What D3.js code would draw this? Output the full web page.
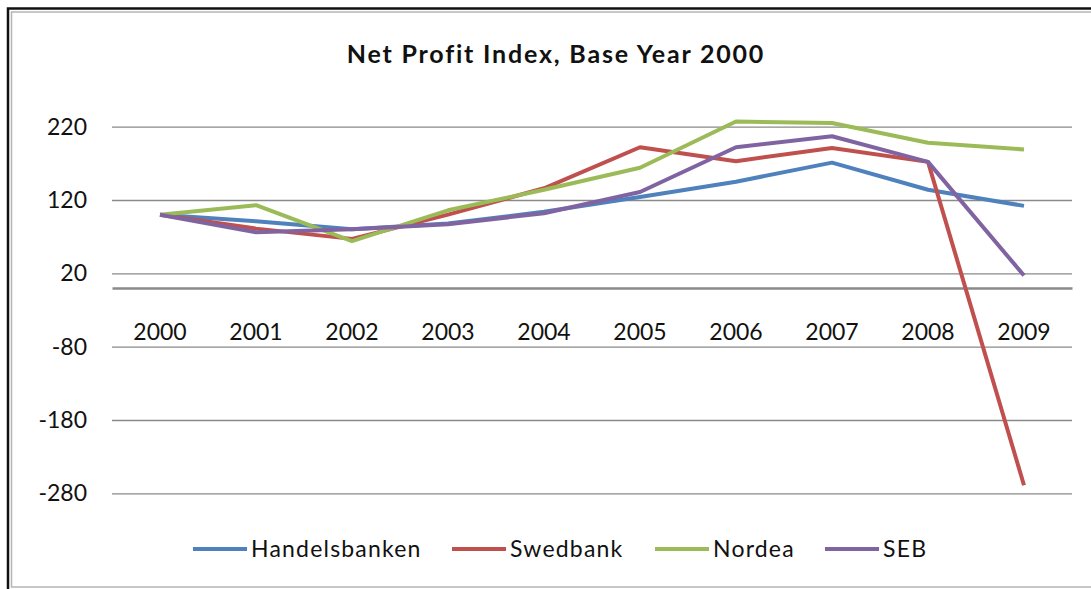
<!DOCTYPE html>
<html>
<head>
<meta charset="utf-8">
<script src="https://cdn.jsdelivr.net/npm/d3@7"></script>
<style>
  html, body { margin: 0; padding: 0; background: #fff; }
  svg { display: block; font-family: Lato, "Open Sans", sans-serif; }
</style>
</head>
<body>
<svg id="chart"></svg>
<script>
// --- data ---
const years = ["2000", "2001", "2002", "2003", "2004", "2005", "2006", "2007", "2008", "2009"];
const handelsbanken = [100, 91, 80, 88, 104, 124, 145, 171, 134, 112];
const swedbank = [100, 81, 67, 100, 136, 192, 173, 191, 172, -269];
const nordea = [100, 113, 64, 106, 134, 164, 227, 225, 198, 189];
const seb = [100, 76, 80, 87, 102, 131, 192, 207, 172, 17];
const seriesNames = ["Handelsbanken", "Swedbank", "Nordea", "SEB"];
const yTicks = [220, 120, 20, -80, -180, -280];

const colors = ["#4F81BD", "#C0504D", "#9BBB59", "#8064A2"];
const allSeries = [handelsbanken, swedbank, nordea, seb].map((vals, i) => ({
  name: seriesNames[i],
  color: colors[i],
  values: vals.map((v, j) => ({ year: years[j], value: v }))
}));

const W = 1091, H = 589;
const svg = d3.select("#chart").attr("width", W).attr("height", H);

// frame (black outer, gray inner)
svg.append("rect")
  .attr("x", 8).attr("y", 8.5).attr("width", W + 20).attr("height", H + 20)
  .attr("fill", "none").attr("stroke", "#111").attr("stroke-width", 2.5);
svg.append("rect")
  .attr("x", 11.5).attr("y", 12).attr("width", W + 20).attr("height", 575)
  .attr("fill", "none").attr("stroke", "#b5b5b5").attr("stroke-width", 1.5);

// --- scales ---
const x = d3.scaleBand().domain(years).range([112, 1072]);
const y = d3.scaleLinear().domain([-280, 220]).range([493.3, 126.7]);
const cx = d => x(d) + x.bandwidth() / 2;

// title
svg.append("text")
  .attr("x", 556).attr("y", 63)
  .attr("text-anchor", "middle")
  .attr("font-size", 25).attr("font-weight", 700)
  .attr("letter-spacing", 1.8)
  .attr("fill", "#111")
  .text("Net Profit Index, Base Year 2000");

// gridlines + y labels (plain hyphen for negatives, like the original)
const yAxis = d3.axisLeft(y).tickValues(yTicks)
  .tickFormat(d => String(d))
  .tickSize(-(1072 - 112)).tickPadding(25);
const gy = svg.append("g").attr("transform", "translate(112,0)").call(yAxis);
gy.select(".domain").remove();
gy.selectAll(".tick line").attr("stroke", "#8a8a8a").attr("stroke-width", 1.3);
gy.selectAll(".tick text")
  .attr("font-size", 23).attr("fill", "#111")
  .attr("font-family", "Lato, sans-serif");

// zero axis with category labels below
const xAxis = d3.axisBottom(x).tickSize(0).tickPadding(36);
const gx = svg.append("g").attr("transform", `translate(0,${y(0)})`).call(xAxis);
gx.select(".domain").attr("stroke", "#8a8a8a").attr("stroke-width", 2.5);
gx.selectAll(".tick text")
  .attr("font-size", 23).attr("fill", "#111")
  .attr("font-family", "Lato, sans-serif");

// --- lines ---
const line = d3.line().x(d => cx(d.year)).y(d => y(d.value));
svg.append("g").selectAll("path")
  .data(allSeries)
  .enter().append("path")
  .attr("d", d => line(d.values))
  .attr("fill", "none")
  .attr("stroke", d => d.color)
  .attr("stroke-width", 4)
  .attr("stroke-linejoin", "round");

// --- legend ---
const legendX = [193, 452, 655, 825];
const legend = svg.append("g").selectAll("g")
  .data(allSeries)
  .enter().append("g")
  .attr("transform", (d, i) => `translate(${legendX[i]},549)`);
legend.append("line")
  .attr("x1", 0).attr("x2", 54)
  .attr("stroke", d => d.color).attr("stroke-width", 4);
legend.append("text")
  .attr("x", 58).attr("y", 8)
  .attr("font-size", 23).attr("fill", "#111")
  .attr("letter-spacing", 1.2)
  .text(d => d.name);
</script>
</body>
</html>
